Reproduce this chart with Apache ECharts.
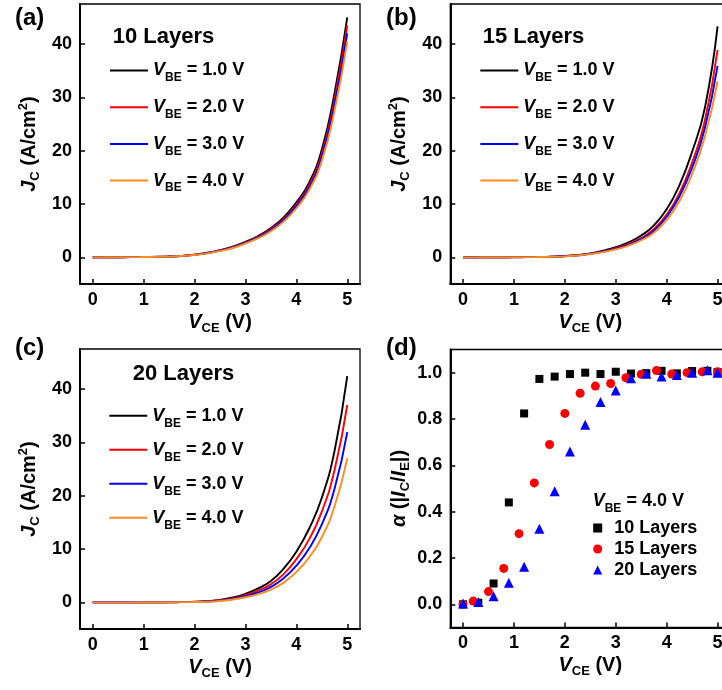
<!DOCTYPE html>
<html>
<head>
<meta charset="utf-8">
<script src="https://cdn.jsdelivr.net/npm/echarts@6/dist/echarts.min.js"></script>
<style>
  html, body { margin: 0; padding: 0; background: #fff; }
  #chart { width: 722px; height: 690px; }
</style>
</head>
<body>
<div id="chart"></div>
<script>
// V_CE sample points of the J-V sweeps (V)
var vce = [0, 0.25, 0.5, 0.75, 1, 1.25, 1.5, 1.75, 2, 2.25, 2.5, 2.75, 3, 3.25, 3.5, 3.75, 4, 4.25, 4.5, 4.75, 5]
var vbeLabels = ['1.0', '2.0', '3.0', '4.0']
var layerLabels = ['10 Layers', '15 Layers', '20 Layers']
var tickX = [0, 1, 2, 3, 4, 5]
var tickJ = [0, 10, 20, 30, 40]
var tickAlpha = [0, 0.2, 0.4, 0.6, 0.8, 1.0]

// J_C (A/cm2) for V_BE = 1.0 / 2.0 / 3.0 / 4.0 V
var jc10_v1 = [0, 0.01, 0.02, 0.04, 0.06, 0.1, 0.15, 0.28, 0.5, 0.85, 1.35, 2.0, 2.9, 4.0, 5.5, 7.5, 10.3, 14.0, 20.2, 30.8, 45.0]
var jc10_v2 = [0, 0.01, 0.02, 0.04, 0.05, 0.09, 0.14, 0.26, 0.48, 0.8, 1.3, 1.9, 2.8, 3.85, 5.3, 7.2, 9.9, 13.5, 19.4, 29.6, 43.5]
var jc10_v3 = [0, 0.01, 0.02, 0.03, 0.05, 0.08, 0.13, 0.25, 0.46, 0.78, 1.25, 1.85, 2.7, 3.75, 5.1, 7.0, 9.6, 13.1, 18.8, 28.6, 42.0]
var jc10_v4 = [0, 0.01, 0.02, 0.03, 0.05, 0.08, 0.12, 0.24, 0.44, 0.75, 1.2, 1.75, 2.6, 3.6, 4.9, 6.7, 9.2, 12.6, 18.1, 27.5, 40.5]

var jc15_v1 = [0, 0, 0.01, 0.02, 0.03, 0.05, 0.08, 0.14, 0.25, 0.45, 0.75, 1.25, 1.9, 2.8, 4.1, 6.0, 9.0, 13.5, 19.8, 28.0, 43.3]
var jc15_v2 = [0, 0, 0.01, 0.02, 0.03, 0.05, 0.07, 0.12, 0.22, 0.4, 0.68, 1.1, 1.7, 2.5, 3.6, 5.3, 8.0, 12.0, 17.8, 25.6, 38.9]
var jc15_v3 = [0, 0, 0.01, 0.01, 0.02, 0.04, 0.06, 0.11, 0.2, 0.38, 0.64, 1.05, 1.6, 2.35, 3.4, 5.0, 7.6, 11.4, 16.8, 24.2, 35.9]
var jc15_v4 = [0, 0, 0.01, 0.01, 0.02, 0.04, 0.06, 0.1, 0.18, 0.35, 0.6, 0.98, 1.5, 2.2, 3.2, 4.6, 7.0, 10.5, 15.6, 22.6, 33.0]

var jc20_v1 = [0, 0, 0, 0, 0.01, 0.02, 0.03, 0.05, 0.1, 0.22, 0.45, 0.9, 1.6, 2.6, 4.0, 6.3, 9.5, 13.8, 19.6, 28.4, 42.4]
var jc20_v2 = [0, 0, 0, 0, 0.01, 0.01, 0.02, 0.04, 0.08, 0.18, 0.38, 0.75, 1.35, 2.2, 3.4, 5.3, 8.1, 11.8, 17.0, 24.8, 37.0]
var jc20_v3 = [0, 0, 0, 0, 0.01, 0.01, 0.02, 0.04, 0.07, 0.15, 0.32, 0.63, 1.15, 1.85, 2.9, 4.5, 6.9, 10.1, 14.6, 21.3, 31.9]
var jc20_v4 = [0, 0, 0, 0, 0.01, 0.01, 0.02, 0.03, 0.06, 0.12, 0.26, 0.52, 0.95, 1.55, 2.4, 3.7, 5.7, 8.4, 12.2, 18.0, 27.0]

// alpha = |I_C/I_E| at V_BE = 4.0 V
var alphaX10 = [0, 0.3, 0.6, 0.9, 1.2, 1.5, 1.8, 2.1, 2.4, 2.7, 3.0, 3.3, 3.6, 3.9, 4.2, 4.5, 4.8, 5.0]
var alpha10 = [0, 0.007, 0.09, 0.44, 0.824, 0.973, 0.983, 0.994, 1.0, 0.994, 1.004, 0.996, 0.998, 1.008, 0.997, 1.007, 1.008, 1.003]
var alphaX15 = [0, 0.2, 0.5, 0.8, 1.1, 1.4, 1.7, 2.0, 2.3, 2.6, 2.9, 3.2, 3.5, 3.8, 4.1, 4.4, 4.7, 5.0]
var alpha15 = [0, 0.014, 0.055, 0.155, 0.305, 0.524, 0.69, 0.824, 0.911, 0.942, 0.953, 0.978, 0.993, 1.009, 0.994, 1.0, 1.004, 1.004]
var alphaX20 = [0, 0.3, 0.6, 0.9, 1.2, 1.5, 1.8, 2.1, 2.4, 2.7, 3.0, 3.3, 3.6, 3.9, 4.2, 4.5, 4.8, 5.0]
var alpha20 = [0.004, 0.01, 0.035, 0.093, 0.162, 0.326, 0.488, 0.66, 0.775, 0.873, 0.923, 0.976, 0.995, 0.983, 0.99, 1.0, 1.01, 1.0]

var lineColors = ['#000000', '#ff0000', '#0000ff', '#ff8c1a']
var dotColors = ['#000000', '#ff0000', '#0000ff']
var dotSymbols = ['rect', 'circle', 'triangle']
var dotSizes = [8, 9, 10]

var FONT = '"Liberation Sans", Arial, sans-serif'

function tok(size, italic, extra) {
  var s = {
    fontFamily: FONT,
    fontSize: size,
    fontWeight: 'bold',
    fontStyle: italic ? 'italic' : 'normal',
    color: '#000',
    lineHeight: 22
  }
  for (var k in extra) s[k] = extra[k]
  return s
}

var legendRich = {
  i: tok(18, true),
  n: tok(18, false),
  s: tok(12, false, { padding: [15, 0, 0, 0] }),
  t: tok(18, false, { padding: [0, 0, 0, 7] })
}
var nameRich = {
  i: tok(20, true),
  n: tok(20, false),
  s: tok(13, false, { padding: [12, 0, 0, 0] }),
  u: tok(13, false, { padding: [0, 0, 12, 0] })
}

var panels = [
  { left: 80, top: 4, label: '(a)', jc: [jc10_v1, jc10_v2, jc10_v3, jc10_v4], key: 'a' },
  { left: 450.3, top: 4, label: '(b)', jc: [jc15_v1, jc15_v2, jc15_v3, jc15_v4], key: 'b' },
  { left: 80, top: 349, label: '(c)', jc: [jc20_v1, jc20_v2, jc20_v3, jc20_v4], key: 'c' },
  { left: 450.3, top: 349.5, label: '(d)', key: 'd' }
]

var grids = []
var xAxes = []
var yAxes = []
var series = []
var titles = []
var legends = []

panels.forEach(function (p, idx) {
  var isAlpha = p.key === 'd'
  grids.push({
    left: p.left,
    top: p.top,
    width: 280,
    height: isAlpha ? 278 : 280,
    outerBoundsMode: 'none',
    containLabel: false,
    show: true,
    borderColor: '#000',
    borderWidth: 1.3,
    backgroundColor: 'transparent'
  })
  xAxes.push({
    gridIndex: idx,
    type: 'value',
    min: -0.25,
    max: 5.25,
    name: '{i|V}{s|CE}{n| (V)}',
    nameLocation: 'middle',
    nameGap: 27,
    nameTextStyle: { rich: nameRich },
    axisLine: { onZero: false, lineStyle: { color: '#000', width: 2 } },
    axisTick: { inside: true, length: 5, customValues: tickX, lineStyle: { color: '#000', width: 1.5 } },
    axisLabel: {
      customValues: tickX,
      margin: 7,
      fontFamily: FONT,
      fontSize: 18,
      fontWeight: 'bold',
      color: '#000'
    },
    splitLine: { show: false }
  })
  yAxes.push({
    gridIndex: idx,
    type: 'value',
    min: isAlpha ? -0.1 : -5,
    max: isAlpha ? 1.1 : 47.5,
    name: isAlpha ? '{i|α}{n| (|}{i|I}{s|C}{n|/}{i|I}{s|E}{n||)}' : '{i|J}{s|C}{n| (A/cm}{u|2}{n|)}',
    nameLocation: 'middle',
    nameGap: 40,
    nameTextStyle: { rich: nameRich },
    axisLine: { onZero: false, lineStyle: { color: '#000', width: 2 } },
    axisTick: { inside: true, length: 5, customValues: isAlpha ? tickAlpha : tickJ, lineStyle: { color: '#000', width: 1.5 } },
    axisLabel: {
      customValues: isAlpha ? tickAlpha : tickJ,
      margin: 8,
      fontFamily: FONT,
      fontSize: 18,
      fontWeight: 'bold',
      color: '#000',
      formatter: function (v) { return isAlpha ? v.toFixed(1) : String(v) }
    },
    splitLine: { show: false }
  })
  titles.push({
    text: p.label,
    left: p.left < 100 ? 15 : 386,
    top: p.top < 100 ? 6 : 336,
    padding: 0,
    textStyle: { fontFamily: FONT, fontSize: 24, fontWeight: 'bold', color: '#000', lineHeight: 24 }
  })

  if (!isAlpha) {
    var names = []
    p.jc.forEach(function (arr, k) {
      var nm = p.key + '|' + vbeLabels[k]
      names.push(nm)
      series.push({
        name: nm,
        type: 'line',
        xAxisIndex: idx,
        yAxisIndex: idx,
        data: vce.map(function (x, i) { return [x, arr[i]] }),
        showSymbol: false,
        smooth: 0.5,
        lineStyle: { color: lineColors[k], width: 1.9 },
        itemStyle: { color: lineColors[k] }
      })
    })
    legends.push({
      data: names,
      orient: 'vertical',
      left: idx === 1 ? 480.3 : (idx === 2 ? 109.3 : 110),
      top: idx === 2 ? 402.3 : 57,
      padding: 0,
      itemGap: idx === 2 ? 7 : 9.7,
      itemWidth: 38,
      itemHeight: 2,
      icon: 'rect',
      selectedMode: false,
      formatter: function (name) {
        return '{i|V}{s|BE}{n| = ' + name.split('|')[1] + ' V}'
      },
      textStyle: { rich: legendRich }
    })
  }
})

// layer count captions inside (a)-(c)
var captionStyle = { fontFamily: FONT, fontSize: 22, fontWeight: 'bold', color: '#000', lineHeight: 24 }
titles.push({ text: layerLabels[0], left: 112.7, top: 25, padding: 0, textStyle: captionStyle })
titles.push({ text: layerLabels[1], left: 482.7, top: 25, padding: 0, textStyle: captionStyle })
titles.push({ text: layerLabels[2], left: 132.7, top: 362, padding: 0, textStyle: captionStyle })
// legend header for (d)
titles.push({ text: '{i|V}{s|BE}{n| = 4.0 V}', left: 592.7, top: 489.7, padding: 0,
  textStyle: { rich: legendRich } })

var alphaXs = [alphaX10, alphaX15, alphaX20]
var alphaYs = [alpha10, alpha15, alpha20]
layerLabels.forEach(function (lab, k) {
  series.push({
    name: lab,
    type: 'scatter',
    xAxisIndex: 3,
    yAxisIndex: 3,
    symbol: dotSymbols[k],
    symbolSize: dotSizes[k],
    itemStyle: { color: dotColors[k], opacity: 1 },
    data: alphaXs[k].map(function (x, i) { return [x, alphaYs[k][i]] })
  })
})
legends.push({
  data: layerLabels,
  orient: 'vertical',
  left: 593.2,
  top: 519,
  padding: 0,
  itemGap: 3,
  itemWidth: 9,
  itemHeight: 9,
  selectedMode: false,
  formatter: function (name) { return '{t|' + name + '}' },
  textStyle: { rich: legendRich }
})

var chart = echarts.init(document.getElementById('chart'), null, { renderer: 'canvas' })
chart.setOption({
  animation: false,
  backgroundColor: '#fff',
  title: titles,
  legend: legends,
  grid: grids,
  xAxis: xAxes,
  yAxis: yAxes,
  series: series
})
</script>
</body>
</html>
